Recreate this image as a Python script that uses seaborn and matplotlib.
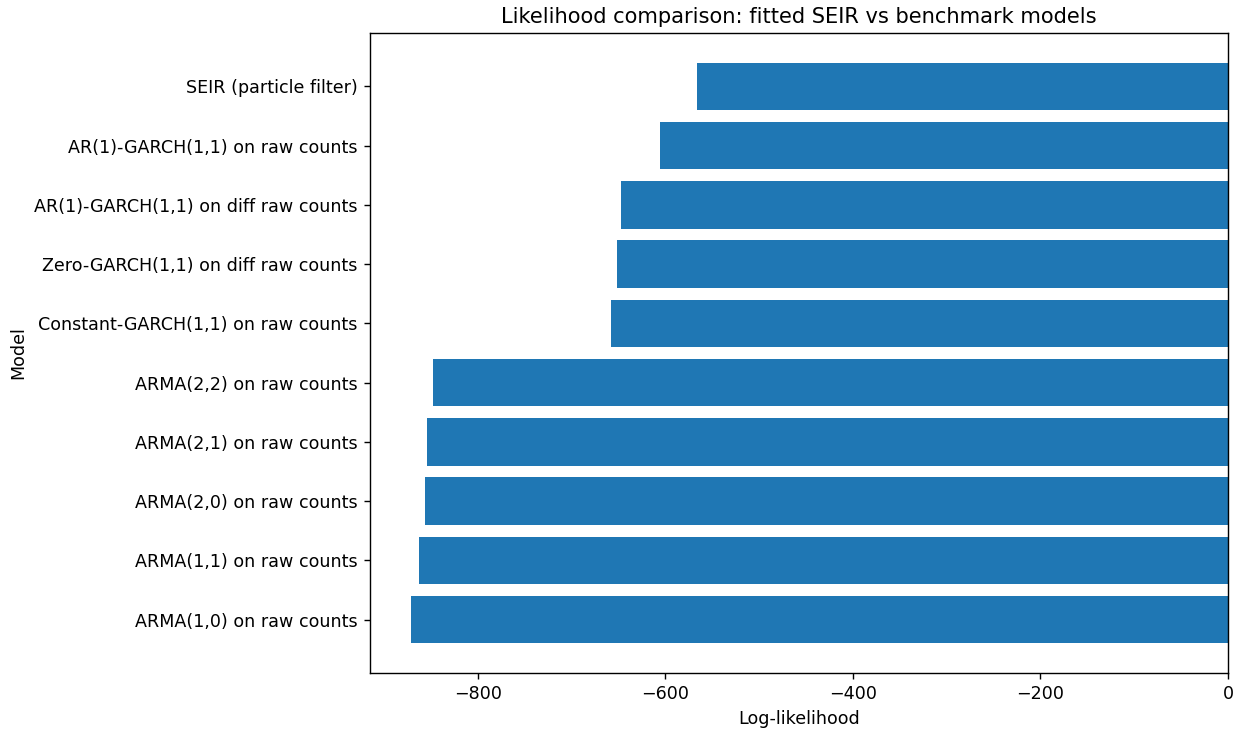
import matplotlib
matplotlib.use("Agg")
import matplotlib.pyplot as plt
import seaborn as sns
import pandas as pd

# models, top to bottom as shown
models = [
    "SEIR (particle filter)",
    "AR(1)-GARCH(1,1) on raw counts",
    "AR(1)-GARCH(1,1) on diff raw counts",
    "Zero-GARCH(1,1) on diff raw counts",
    "Constant-GARCH(1,1) on raw counts",
    "ARMA(2,2) on raw counts",
    "ARMA(2,1) on raw counts",
    "ARMA(2,0) on raw counts",
    "ARMA(1,1) on raw counts",
    "ARMA(1,0) on raw counts",
]
loglik = [-566.4, -605.9, -647.5, -651.7, -658.1, -848.0, -854.4, -856.5, -862.9, -871.5]

df = pd.DataFrame({"Model": models, "Log-likelihood": loglik})

fig, ax = plt.subplots(figsize=(9.873, 5.8), dpi=125.7)
sns.barplot(data=df, x="Log-likelihood", y="Model", orient="h",
            color="#1f77b4", saturation=1, width=0.8, ax=ax)
ax.set_xlim(-915.2, 0)
ax.set_ylim(9.9, -0.9)
ax.set_title("Likelihood comparison: fitted SEIR vs benchmark models")
ax.set_xlabel("Log-likelihood")
ax.set_ylabel("Model")
fig.subplots_adjust(left=0.298, right=0.9895, top=0.9547, bottom=0.0768)
fig.savefig("out.png")
